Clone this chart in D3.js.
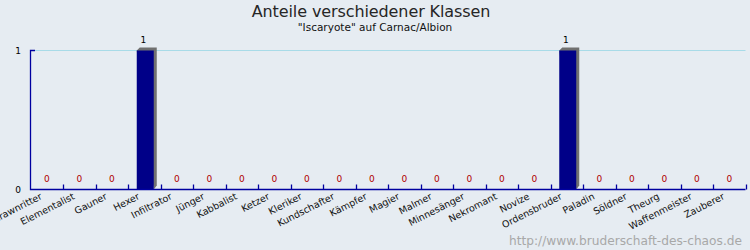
<!DOCTYPE html>
<html><head><meta charset="utf-8">
<script src="https://cdn.jsdelivr.net/npm/d3@7"></script>
<style>
html,body{margin:0;padding:0;background:#e6ecf2;}
svg{display:block;font-family:"DejaVu Sans",sans-serif;}
</style></head>
<body>
<svg id="chart" width="750" height="250"></svg>
<script>
const title = "Anteile verschiedener Klassen";
const subtitle = "\"Iscaryote\" auf Carnac/Albion";
const watermark = "http://www.bruderschaft-des-chaos.de";
const categories = ["Arawnritter","Elementalist","Gauner","Hexer","Infiltrator","Jünger","Kabbalist","Ketzer","Kleriker","Kundschafter","Kämpfer","Magier","Malmer","Minnesänger","Nekromant","Novize","Ordensbruder","Paladin","Söldner","Theurg","Waffenmeister","Zauberer"];
const values = [0,0,0,1,0,0,0,0,0,0,0,0,0,0,0,0,1,0,0,0,0,0];
const yTicks = [0,1];

const svg = d3.select("#chart");
svg.append("rect").attr("width",750).attr("height",250).attr("fill","#e6ecf2");

const x = d3.scaleBand().domain(categories).range([30.5,745.5]);
const y = d3.scaleLinear().domain([0,1]).range([189.5,50.5]);

svg.append("text").attr("x",371).attr("y",17).attr("text-anchor","middle")
  .attr("font-size",16).attr("fill","#262626").attr("letter-spacing",-0.1).text(title);
svg.append("text").attr("x",375).attr("y",31).attr("text-anchor","middle")
  .attr("font-size",10.5).attr("fill","#111").text(subtitle);

// gridlines
svg.selectAll("line.grid").data(yTicks.filter(d=>d>0)).join("line")
  .attr("x1",35).attr("x2",745.5).attr("y1",d=>y(d)).attr("y2",d=>y(d))
  .attr("stroke","#a8dbe8").attr("stroke-width",1);

// bars with shadow
const bw = 17;
const bars = svg.append("g");
values.forEach((v,i)=>{
  if(v<=0) return;
  const cx = x(categories[i]) + x.bandwidth()/2 + 1;
  const x0 = cx - bw/2, x1 = cx + bw/2, yt = y(v), yb = y(0);
  bars.append("path")
    .attr("d",`M${x0},${yt} L${x0+3},${yt-3} L${x1+3},${yt-3} L${x1+3},${yb-4} L${x1},${yb} Z`)
    .attr("fill","#707070");
  bars.append("rect").attr("x",x0).attr("y",yt).attr("width",bw).attr("height",yb-yt)
    .attr("fill","#000088");
});

// axes
const ax = svg.append("g").attr("stroke","#0000a0").attr("fill","none");
ax.append("path").attr("d",`M35,${y(1)} H30.5 V${y(0)} H745.5`).attr("stroke-width",1.3);
const bounds = categories.map(c=>x(c)).slice(1).concat([x.range()[1]]);
ax.selectAll("line").data(bounds).join("line")
  .attr("x1",d=>Math.round(d)+0.5).attr("x2",d=>Math.round(d)+0.5)
  .attr("y1",y(0)-5).attr("y2",y(0)).attr("stroke-width",1.3);

svg.selectAll("text.yt").data(yTicks).join("text").attr("class","yt")
  .attr("x",21).attr("y",d=>y(d)+3).attr("text-anchor","end")
  .attr("font-size",9).attr("fill","#000").text(d=>d);

// value labels
svg.selectAll("text.val").data(values).join("text").attr("class","val")
  .attr("x",(d,i)=>x(categories[i])+x.bandwidth()/2 + (d>0?-1:0))
  .attr("y",d=>d>0 ? y(d)-8 : y(0)-8)
  .attr("text-anchor","middle").attr("font-size",9)
  .attr("fill",d=>d>0?"#000":"#b00000").text(d=>d);

// category labels
svg.selectAll("text.cat").data(categories).join("text").attr("class","cat")
  .attr("transform",d=>`translate(${x(d)+x.bandwidth()/2-4},${y(0)+9}) rotate(-27)`)
  .attr("text-anchor","end").attr("font-size",9.5).attr("fill","#111").text(d=>d);

svg.append("text").attr("x",742).attr("y",245).attr("text-anchor","end")
  .attr("font-size",12.2).attr("fill","#a8a8a8").text(watermark);
</script>
</body></html>
